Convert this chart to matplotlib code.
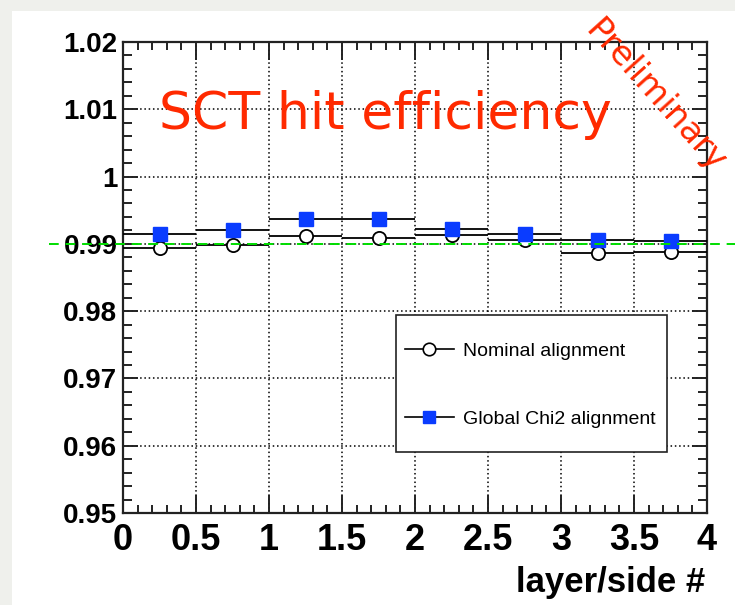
import matplotlib

matplotlib.use("Agg")
import matplotlib.pyplot as plt
from matplotlib.lines import Line2D
from matplotlib.patches import Rectangle
from matplotlib.ticker import FormatStrFormatter, MultipleLocator


# layer/side bins (centre and half width)
BIN_CENTRES = [0.25, 0.75, 1.25, 1.75, 2.25, 2.75, 3.25, 3.75]
BIN_HALF_WIDTH = 0.25

NOMINAL_EFF = [0.9894, 0.9898, 0.9912, 0.9908, 0.9913, 0.9905, 0.9886, 0.9888]
GLOBAL_CHI2_EFF = [0.9915, 0.9920, 0.9937, 0.9937, 0.9922, 0.9915, 0.9906, 0.9904]

SERIES_LABELS = ["Nominal alignment", "Global Chi2 alignment"]
REFERENCE_EFF = 0.99

X_RANGE = (0.0, 4.0)
Y_RANGE = (0.95, 1.02)

TICK_FONT = "Liberation Sans"
RED = "#ff2a00"
BLUE = "#0a3cff"

W, H = 735, 605


def px_to_fig(x, y):
    return x / W, 1 - y / H


fig = plt.figure(figsize=(W / 100, H / 100), dpi=100, facecolor="#eff0ec")
# white slide panel behind the canvas
fig.patches.append(
    Rectangle(px_to_fig(12, H), 1, 1 - 11 / H, transform=fig.transFigure,
              facecolor="white", edgecolor="none", zorder=-10)
)

left, top = px_to_fig(123, 42)
right, bottom = px_to_fig(707, 513)
ax = fig.add_axes([left, bottom, right - left, top - bottom])
ax.set_facecolor("white")

ax.set_xlim(*X_RANGE)
ax.set_ylim(*Y_RANGE)

ax.errorbar(BIN_CENTRES, NOMINAL_EFF, xerr=BIN_HALF_WIDTH, fmt="o",
            color="black", ecolor="black", elinewidth=1.3, capsize=0,
            markersize=9.5, markerfacecolor="white", markeredgewidth=1.3,
            zorder=3)
ax.errorbar(BIN_CENTRES, GLOBAL_CHI2_EFF, xerr=BIN_HALF_WIDTH, fmt="s",
            color="black", ecolor="black", elinewidth=1.3, capsize=0,
            markersize=9.5, markerfacecolor=BLUE, markeredgecolor=BLUE,
            zorder=4)

ax.axhline(REFERENCE_EFF, xmin=-0.127, xmax=1.06, color="#00dd00",
           linestyle=(0, (5, 3.5)), linewidth=1.4, clip_on=False, zorder=10)

# ROOT-like axes: ticks inside on all four sides, dotted grid at major ticks
ax.xaxis.set_major_locator(MultipleLocator(0.5))
ax.xaxis.set_minor_locator(MultipleLocator(0.1))
ax.yaxis.set_major_locator(MultipleLocator(0.01))
ax.yaxis.set_minor_locator(MultipleLocator(0.002))
ax.xaxis.set_major_formatter(FormatStrFormatter("%g"))
ax.yaxis.set_major_formatter(FormatStrFormatter("%g"))

ax.tick_params(axis="both", which="both", direction="in", top=True,
               right=True, width=1.4, color="#222222")
ax.tick_params(axis="x", which="major", length=13, pad=7)
ax.tick_params(axis="x", which="minor", length=6)
ax.tick_params(axis="y", which="major", length=11, pad=4)
ax.tick_params(axis="y", which="minor", length=6.5)
for lab in ax.get_xticklabels():
    lab.set_fontfamily(TICK_FONT)
    lab.set_fontweight("bold")
    lab.set_fontsize(26)
for lab in ax.get_yticklabels():
    lab.set_fontfamily(TICK_FONT)
    lab.set_fontweight("bold")
    lab.set_fontsize(20)

ax.grid(True, which="major", color="black", linestyle=(0, (1, 1.8)),
        linewidth=1.1)
ax.set_axisbelow(True)
for spine in ax.spines.values():
    spine.set_linewidth(1.6)
    spine.set_color("#222222")

fig.text(*px_to_fig(705, 592), "layer/side #", ha="right", va="baseline",
         fontfamily=TICK_FONT, fontweight="bold", fontsize=25)

# legend box
lx0, ly0 = px_to_fig(396, 452)
lx1, ly1 = px_to_fig(667, 315)
fig.patches.append(
    Rectangle((lx0, ly0), lx1 - lx0, ly1 - ly0, transform=fig.transFigure,
              facecolor="white", edgecolor="#222222", linewidth=1.2, zorder=1)
)
handles = [
    Line2D([], [], color="black", linewidth=1.2, marker="o", markersize=9,
           markerfacecolor="white", markeredgecolor="black",
           markeredgewidth=1.2),
    Line2D([], [], color="black", linewidth=1.2, marker="s", markersize=9,
           markerfacecolor=BLUE, markeredgecolor=BLUE),
]
fig.legend(handles, SERIES_LABELS, loc="upper left",
           bbox_to_anchor=px_to_fig(405, 342), frameon=False, borderpad=0,
           borderaxespad=0, handlelength=2.5, handletextpad=0.5,
           labelspacing=2.6, numpoints=1,
           prop={"family": TICK_FONT, "size": 14})

fig.text(*px_to_fig(159, 129), "SCT hit efficiency", ha="left",
         va="baseline", color=RED, fontfamily="DejaVu Sans", fontsize=37.5)
fig.text(*px_to_fig(655, 96), "Preliminary", ha="center", va="center",
         rotation=-48, rotation_mode="anchor", color=RED,
         fontfamily="DejaVu Sans", fontsize=24.5)

fig.savefig("out.png", dpi=100, facecolor=fig.get_facecolor())
